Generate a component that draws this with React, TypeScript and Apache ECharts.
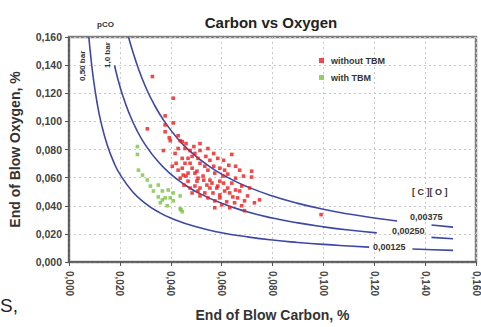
import React, { useEffect, useRef } from "react";
import * as echarts from "echarts";

const xTicks = { min: 0, max: 0.16, interval: 0.02 };
const yTicks = { min: 0, max: 0.16, interval: 0.02 };

const withoutTBM: number[][] = [
  [0.0328, 0.1319], [0.041, 0.1165], [0.0378, 0.1039], [0.041, 0.0989], [0.0308, 0.0947],
  [0.0378, 0.0975], [0.0378, 0.0926], [0.0394, 0.0884], [0.0429, 0.0898], [0.0437, 0.0863],
  [0.0398, 0.0863], [0.0445, 0.0856], [0.0371, 0.0793], [0.0417, 0.0772], [0.0468, 0.0737],
  [0.0476, 0.0702], [0.0406, 0.0681], [0.0429, 0.0653], [0.0449, 0.0618], [0.0503, 0.0646],
  [0.0527, 0.0611], [0.0554, 0.0582], [0.0503, 0.0575], [0.0542, 0.0547], [0.0581, 0.0526],
  [0.0593, 0.0575], [0.0515, 0.0526], [0.0566, 0.0491], [0.0605, 0.0611], [0.0468, 0.0575],
  [0.0593, 0.0456], [0.0573, 0.0435], [0.064, 0.0765], [0.0628, 0.0688], [0.0718, 0.0646],
  [0.0718, 0.0604], [0.0991, 0.0337], [0.0749, 0.0442], [0.069, 0.0435], [0.0632, 0.0386],
  [0.069, 0.0365], [0.0644, 0.0463], [0.0671, 0.0505], [0.0593, 0.0477],
  [0.0456, 0.0807], [0.0476, 0.0793], [0.0495, 0.0772], [0.0484, 0.0751], [0.0507, 0.0737],
  [0.0456, 0.0702], [0.0484, 0.0667], [0.0515, 0.0702], [0.0534, 0.0681], [0.0495, 0.0632],
  [0.0468, 0.0632], [0.0445, 0.0737], [0.0429, 0.0807], [0.046, 0.0842], [0.0491, 0.0821],
  [0.0515, 0.0793], [0.0538, 0.0751], [0.0554, 0.0723], [0.0569, 0.0681], [0.0546, 0.0653],
  [0.0573, 0.0632], [0.0593, 0.0667], [0.0612, 0.0653], [0.0624, 0.0625], [0.0608, 0.0561],
  [0.0624, 0.0526], [0.064, 0.0561], [0.0655, 0.0596], [0.0554, 0.0526], [0.0534, 0.0491],
  [0.0515, 0.047], [0.0495, 0.054], [0.0476, 0.0526], [0.0452, 0.0547], [0.0437, 0.0596],
  [0.0421, 0.0702], [0.0445, 0.0667], [0.046, 0.0611], [0.0507, 0.0596], [0.053, 0.0582],
  [0.0562, 0.0561], [0.0585, 0.054], [0.0612, 0.0505], [0.0632, 0.0491], [0.0655, 0.0512],
  [0.0679, 0.054], [0.0663, 0.0456], [0.062, 0.0428], [0.0601, 0.0407], [0.0651, 0.0421],
  [0.071, 0.0526], [0.0702, 0.047], [0.0729, 0.0421], [0.0679, 0.04], [0.0546, 0.0456],
  [0.0573, 0.0386], [0.0507, 0.0505], [0.0484, 0.0491], [0.0585, 0.0737], [0.0608, 0.0723],
  [0.0569, 0.0772], [0.0546, 0.0807], [0.0515, 0.0842], [0.0671, 0.0653], [0.0686, 0.0611],
  [0.0655, 0.0681],
];

const withTBM: number[][] = [
  [0.0269, 0.0821], [0.0269, 0.0765], [0.0273, 0.0653], [0.0289, 0.0618], [0.0308, 0.0583],
  [0.032, 0.054], [0.0332, 0.0505], [0.0351, 0.0547], [0.0351, 0.0463], [0.0367, 0.0505],
  [0.0367, 0.0442], [0.039, 0.0512], [0.0398, 0.0456], [0.041, 0.0491], [0.041, 0.0435],
  [0.0437, 0.047], [0.0386, 0.04], [0.0437, 0.0379], [0.0445, 0.0358], [0.044, 0.0372],
  [0.0378, 0.0456], [0.0359, 0.0421],
];

// iso [C][O] lines (segments split where the labels sit)
const co00125Main: number[][] = [
  [0.0078, 0.16], [0.0085, 0.1471], [0.0095, 0.1316], [0.011, 0.1136], [0.0125, 0.1],
  [0.015, 0.0833], [0.0175, 0.0714], [0.02, 0.0625], [0.025, 0.05], [0.03, 0.0417],
  [0.035, 0.0357], [0.04, 0.03125], [0.05, 0.025], [0.06, 0.0208], [0.07, 0.0179],
  [0.08, 0.0156], [0.09, 0.0139], [0.1, 0.0125], [0.11, 0.0114], [0.118, 0.0106],
];
const co00125Tail: number[][] = [[0.135, 0.00926], [0.143, 0.00874], [0.151, 0.00828]];

const co00250Main: number[][] = [
  [0.0179, 0.1397], [0.019, 0.1316], [0.021, 0.119], [0.0235, 0.1064], [0.0265, 0.0943],
  [0.03, 0.0833], [0.035, 0.0714], [0.04, 0.0625], [0.045, 0.0556], [0.05, 0.05],
  [0.06, 0.0417], [0.07, 0.0357], [0.08, 0.03125], [0.09, 0.0278], [0.1, 0.025],
  [0.11, 0.0227], [0.121, 0.0207],
];
const co00250Tail: number[][] = [[0.1425, 0.01754], [0.151, 0.01656]];

const co00375Main: number[][] = [
  [0.0234, 0.16], [0.025, 0.15], [0.0275, 0.1364], [0.03, 0.125], [0.0335, 0.1119],
  [0.0375, 0.1], [0.0425, 0.0882], [0.0475, 0.0789], [0.055, 0.0682], [0.0625, 0.06],
  [0.07, 0.0536], [0.08, 0.0469], [0.09, 0.0417], [0.1, 0.0375], [0.11, 0.0341],
  [0.12, 0.03125], [0.129, 0.0291],
];
const co00375Tail: number[][] = [[0.1425, 0.0263], [0.151, 0.0248]];

const fmt = (v: number) => v.toFixed(3).replace(".", ",");
const FONT = "'Liberation Sans', Arial, sans-serif";
const LINE_COLOR = "#3d48a6";

export default function App() {
  const ref = useRef<HTMLDivElement>(null);
  useEffect(() => {
    document.body.style.margin = "0";
    if (!ref.current) return;
    const chart = echarts.init(ref.current, undefined, { renderer: "svg" });
    const lineSeries = (data: number[][]) => ({
      type: "line",
      data,
      smooth: true,
      symbol: "none",
      silent: true,
      lineStyle: { color: LINE_COLOR, width: 1.6 },
      z: 2,
    });
    const textEl = (x: number, y: number, text: string, size: number, rot = 0, extra: any = {}) => ({
      type: "text",
      x,
      y,
      rotation: rot,
      style: { text, fontSize: size, fontWeight: "bold", fontFamily: FONT, fill: "#333", ...extra },
      z: 10,
    });
    chart.setOption({
      animation: false,
      title: {
        text: "Carbon vs Oxygen",
        left: 266,
        textAlign: "center",
        top: 10,
        textStyle: { fontSize: 15, fontWeight: "bold", fontFamily: FONT, color: "#222" },
      },
      legend: {
        orient: "vertical",
        left: 314,
        top: 51,
        itemGap: 8,
        itemWidth: 5,
        itemHeight: 5,
        icon: "rect",
        data: ["without TBM", "with TBM"],
        textStyle: { fontSize: 9, fontWeight: "bold", fontFamily: FONT, color: "#333", padding: [0, 0, 0, 2] },
      },
      grid: {
        left: 68,
        right: 5,
        top: 37,
        bottom: 62,
        show: true,
        borderColor: "#808080",
        borderWidth: 2.5,
        backgroundColor: "#fff",
      },
      xAxis: {
        type: "value",
        ...xTicks,
        name: "End of Blow Carbon, %",
        nameLocation: "middle",
        nameGap: 46,
        nameTextStyle: { fontSize: 14, fontWeight: "bold", fontFamily: FONT, color: "#333" },
        axisLine: { show: true, lineStyle: { color: "#555", width: 1.5 } },
        axisTick: { show: true, length: 4, lineStyle: { color: "#555" } },
        splitLine: { show: true, lineStyle: { color: "#c8c8c8", type: [2, 3], width: 1 } },
        axisLabel: {
          rotate: -90,
          formatter: fmt,
          fontSize: 10,
          fontWeight: "bold",
          fontFamily: FONT,
          color: "#444",
          margin: 9,
        },
      },
      yAxis: {
        type: "value",
        ...yTicks,
        name: "End of Blow Oxygen, %",
        nameLocation: "middle",
        nameGap: 47,
        nameRotate: 90,
        nameTextStyle: { fontSize: 14, fontWeight: "bold", fontFamily: FONT, color: "#333" },
        axisLine: { show: true, lineStyle: { color: "#555", width: 1.5 } },
        axisTick: { show: true, length: 4, lineStyle: { color: "#555" } },
        splitLine: { show: true, lineStyle: { color: "#c8c8c8", type: [2, 3], width: 1 } },
        axisLabel: {
          formatter: fmt,
          fontSize: 10.5,
          fontWeight: "bold",
          fontFamily: FONT,
          color: "#444",
          margin: 7,
        },
      },
      series: [
        lineSeries(co00125Main),
        lineSeries(co00125Tail),
        lineSeries(co00250Main),
        lineSeries(co00250Tail),
        lineSeries(co00375Main),
        lineSeries(co00375Tail),
        {
          name: "without TBM",
          type: "scatter",
          data: withoutTBM,
          symbol: "rect",
          symbolSize: 3.6,
          itemStyle: { color: "#ee1b1b" },
          z: 5,
        },
        {
          name: "with TBM",
          type: "scatter",
          data: withTBM,
          symbol: "rect",
          symbolSize: 3.6,
          itemStyle: { color: "#7cc242" },
          z: 5,
        },
      ],
      graphic: [
        textEl(97, 20, "pCO", 8),
        textEl(78, 81, "0,50 bar", 8, Math.PI / 2),
        textEl(103, 68, "1,0 bar", 8, Math.PI / 2),
        textEl(412, 187, "[ C ][ O ]", 9),
        textEl(410, 212, "0,00375", 9),
        textEl(392, 226, "0,00250", 9),
        textEl(373, 242, "0,00125", 9),
        { type: "text", x: 0, y: 296, style: { text: "S,", fontSize: 19, fontFamily: FONT, fill: "#222" } },
      ],
    });
    return () => chart.dispose();
  }, []);
  return <div ref={ref} style={{ width: 481, height: 327 }} />;
}
